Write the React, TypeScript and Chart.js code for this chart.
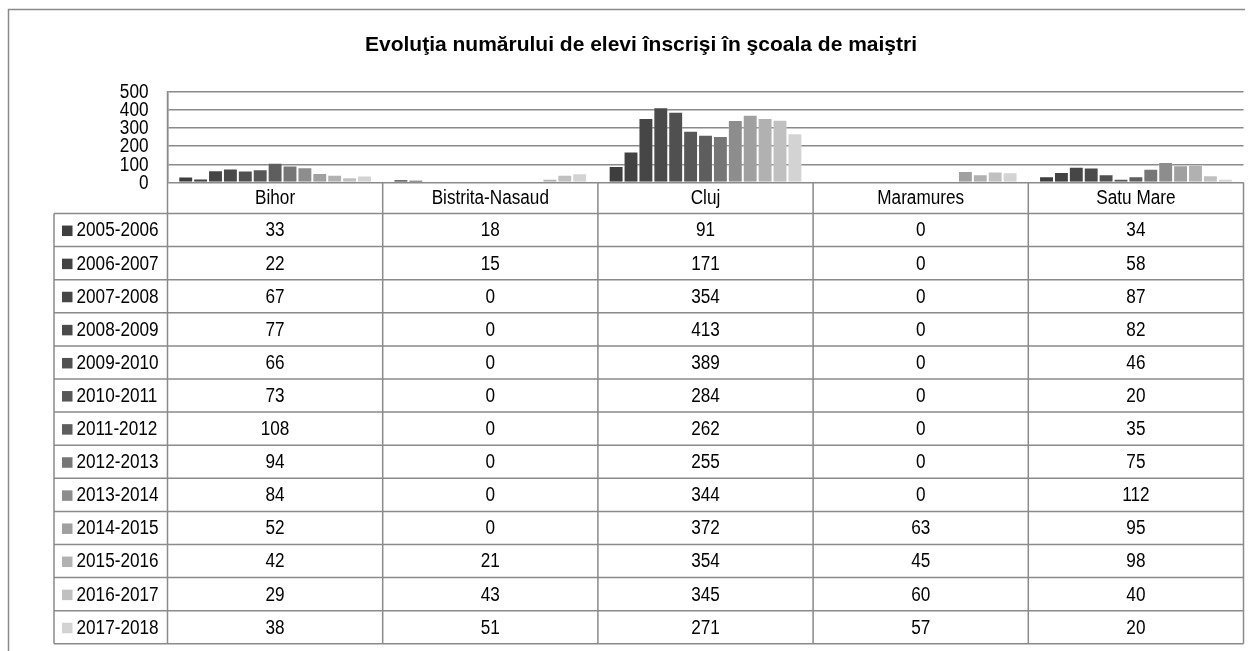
import { useEffect, useRef } from "react";
import { Chart, registerables } from "chart.js";

Chart.register(...registerables);

const titleText = "Evoluţia numărului de elevi înscrişi în şcoala de maiştri";
const categories = ["Bihor", "Bistrita-Nasaud", "Cluj", "Maramures", "Satu Mare"];
const seriesLabels = [
  "2005-2006", "2006-2007", "2007-2008", "2008-2009", "2009-2010", "2010-2011", "2011-2012",
  "2012-2013", "2013-2014", "2014-2015", "2015-2016", "2016-2017", "2017-2018",
];
const v2005_2006 = [33, 18, 91, 0, 34];
const v2006_2007 = [22, 15, 171, 0, 58];
const v2007_2008 = [67, 0, 354, 0, 87];
const v2008_2009 = [77, 0, 413, 0, 82];
const v2009_2010 = [66, 0, 389, 0, 46];
const v2010_2011 = [73, 0, 284, 0, 20];
const v2011_2012 = [108, 0, 262, 0, 35];
const v2012_2013 = [94, 0, 255, 0, 75];
const v2013_2014 = [84, 0, 344, 0, 112];
const v2014_2015 = [52, 0, 372, 63, 95];
const v2015_2016 = [42, 21, 354, 45, 98];
const v2016_2017 = [29, 43, 345, 60, 40];
const v2017_2018 = [38, 51, 271, 57, 20];
const seriesValues = [
  v2005_2006, v2006_2007, v2007_2008, v2008_2009, v2009_2010, v2010_2011, v2011_2012,
  v2012_2013, v2013_2014, v2014_2015, v2015_2016, v2016_2017, v2017_2018,
];
const seriesColors = [
  "#3e3e3e", "#424242", "#464646", "#4a4a4a", "#505050", "#575757", "#5e5e5e",
  "#767676", "#8d8d8d", "#a0a0a0", "#b1b1b1", "#c0c0c0", "#d3d3d3",
];
const yTicks = [0, 100, 200, 300, 400, 500];

const SANS = '"Liberation Sans", Arial, sans-serif';
const LINE = "#8a8a8a";
const TEXT_SIZE = 19.5;
const TEXT_SQUEEZE = 0.88;

function drawText(ctx: CanvasRenderingContext2D, text: string, x: number, y: number, align: CanvasTextAlign) {
  ctx.save();
  ctx.translate(x, y);
  ctx.scale(TEXT_SQUEEZE, 1);
  ctx.textAlign = align;
  ctx.fillText(text, 0, 0);
  ctx.restore();
}

const framePlugin = {
  id: "frame",
  beforeDraw(chart: any) {
    const ctx = chart.ctx;
    ctx.save();
    ctx.fillStyle = "#fff";
    ctx.fillRect(0, 0, chart.width, chart.height);
    ctx.strokeStyle = LINE;
    ctx.lineWidth = 1.5;
    ctx.beginPath();
    ctx.moveTo(8.5, chart.height);
    ctx.lineTo(8.5, 9.5);
    ctx.lineTo(1245, 9.5);
    ctx.stroke();
    ctx.restore();
  },
};

const tablePlugin = {
  id: "dataTable",
  afterDraw(chart: any) {
    const ctx = chart.ctx;
    const area = chart.chartArea;
    const xs = chart.scales.x;
    const ys = chart.scales.y;
    const n = categories.length;
    const colW = area.width / n;
    const headerTop = area.bottom;
    const headerH = 31;
    const rowH = 33.1;
    const tableLeft = 54;
    const rowsTop = headerTop + headerH;
    const tableBottom = rowsTop + rowH * seriesLabels.length;

    ctx.save();
    ctx.strokeStyle = LINE;
    ctx.lineWidth = 1.5;
    ctx.beginPath();
    for (let r = 0; r <= seriesLabels.length; r++) {
      const y = rowsTop + r * rowH;
      ctx.moveTo(tableLeft, y);
      ctx.lineTo(area.right, y);
    }
    ctx.moveTo(tableLeft, rowsTop);
    ctx.lineTo(tableLeft, tableBottom);
    for (let i = 0; i <= n; i++) {
      const bx = i < n ? xs.getPixelForValue(i) - colW / 2 : xs.getPixelForValue(n - 1) + colW / 2;
      ctx.moveTo(bx, i === 0 ? area.top : headerTop);
      ctx.lineTo(bx, tableBottom);
    }
    ctx.stroke();

    ctx.fillStyle = "#000";
    ctx.font = `${TEXT_SIZE}px ${SANS}`;
    ctx.textBaseline = "middle";

    yTicks.forEach((t) => {
      drawText(ctx, String(t), area.left - 19, ys.getPixelForValue(t) + 1, "right");
    });

    categories.forEach((c, i) => {
      drawText(ctx, c, xs.getPixelForValue(i), headerTop + headerH / 2 + 1, "center");
    });
    seriesLabels.forEach((lab, r) => {
      const cy = rowsTop + r * rowH + rowH / 2 + 1;
      ctx.fillStyle = seriesColors[r];
      ctx.fillRect(62, cy - 5.5, 10.5, 10.5);
      ctx.fillStyle = "#000";
      drawText(ctx, lab, 76.5, cy, "left");
      seriesValues[r].forEach((v, i) => {
        drawText(ctx, String(v), xs.getPixelForValue(i), cy, "center");
      });
    });
    ctx.restore();
  },
};

export default function App() {
  const ref = useRef<HTMLCanvasElement | null>(null);
  useEffect(() => {
    if (!ref.current) return;
    const chart = new Chart(ref.current, {
      type: "bar",
      data: {
        labels: categories,
        datasets: seriesLabels.map((lab, i) => ({
          label: lab,
          data: seriesValues[i],
          backgroundColor: seriesColors[i],
          borderColor: "rgba(255,255,255,0.25)",
          borderWidth: 1,
          categoryPercentage: 0.9,
          barPercentage: 1,
        })),
      },
      options: {
        animation: false,
        responsive: true,
        maintainAspectRatio: false,
        layout: { padding: { left: 38.5, right: 5.5, top: 0, bottom: 468.5 } },
        plugins: {
          legend: { display: false },
          tooltip: { enabled: false },
          title: {
            display: true,
            text: titleText,
            color: "#000",
            font: { family: SANS, size: 21, weight: "bold" },
            padding: { top: 32.7, bottom: 33.6 },
          },
        },
        scales: {
          x: { display: false },
          y: {
            min: 0,
            max: 500,
            afterFit: (s: any) => {
              s.width = 129;
            },
            afterBuildTicks: (s: any) => {
              s.ticks = yTicks.map((v) => ({ value: v }));
            },
            ticks: { display: false },
            grid: { color: LINE, lineWidth: 1.5, drawTicks: false },
            border: { display: true, color: LINE, width: 1.5 },
          },
        },
      },
      plugins: [framePlugin, tablePlugin],
    });
    return () => chart.destroy();
  }, []);
  return (
    <div style={{ position: "fixed", left: 0, top: 0, width: 1249, height: 651, background: "#fff" }}>
      <canvas ref={ref} />
    </div>
  );
}
